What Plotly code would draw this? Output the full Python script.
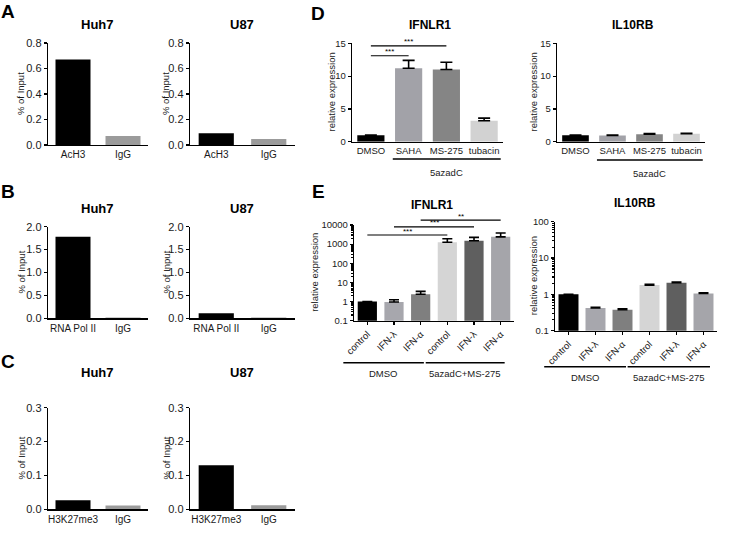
import math
import plotly.graph_objects as go

W, H = 735, 533

# ---------------- data ----------------
A_cats = ["AcH3", "IgG"]
A_huh7 = [0.67, 0.07]
A_u87 = [0.092, 0.047]

B_cats = ["RNA Pol II", "IgG"]
B_huh7 = [1.78, 0.02]
B_u87 = [0.11, 0.02]

C_cats = ["H3K27me3", "IgG"]
C_huh7 = [0.027, 0.011]
C_u87 = [0.13, 0.012]

D_cats = ["DMSO", "SAHA", "MS-275", "tubacin"]
D_ifnlr1 = [1.0, 11.2, 11.0, 3.2]
D_ifnlr1_err = [0.0, 1.2, 1.1, 0.4]
D_il10rb = [1.0, 0.95, 1.15, 1.22]
D_il10rb_err = [0.0, 0.08, 0.08, 0.06]

E_labels = ["control", "IFN-λ", "IFN-α", "control", "IFN-λ", "IFN-α"]
E_ifnlr1 = [1.0, 0.95, 2.4, 1250, 1500, 2400]
E_ifnlr1_err = [0.0, 0.3, 1.0, 650, 750, 1400]
E_il10rb = [1.0, 0.42, 0.38, 1.8, 2.1, 1.06]
E_il10rb_err = [0.0, 0.02, 0.02, 0.08, 0.07, 0.05]

A_ticks = [0.0, 0.2, 0.4, 0.6, 0.8]
B_ticks = [0.0, 0.5, 1.0, 1.5, 2.0]
C_ticks = [0.0, 0.1, 0.2, 0.3]
D_ticks = [0, 5, 10, 15]
E1_ticks = [0.1, 1, 10, 100, 1000, 10000]
E2_ticks = [0.1, 1, 10, 100]

# significance brackets (from idx, to idx, height value, label)
D_sig = [(0, 1, 13.1, "***"), (0, 2, 14.6, "***")]
E_sig = [(0, 3, 3000, "***"), (1, 4, 7900, "***"), (2, 5, 18000, "**")]

# ---------------- styling ----------------
FONT = "Liberation Sans, Arial, sans-serif"
chip_colors = ["#000000", "#9b9b9b"]
D_colors = ["#000000", "#a2a2a8", "#858585", "#d2d2d2"]
E_colors = ["#000000", "#a7a7ad", "#7f7f7f", "#d5d5d5", "#5f5f5f", "#a5a5aa"]
TXT = "#1a1a1a"


def fx(p):
    return p / W


def fy(p):
    return 1 - p / H


fig = go.Figure()
layout = dict(
    template="none",
    width=W, height=H, margin=dict(l=0, r=0, t=0, b=0, pad=0), autosize=False,
    paper_bgcolor="white", plot_bgcolor="white",
    font=dict(family=FONT, size=11, color="black"),
    showlegend=False, annotations=[], shapes=[],
)

# panel spec
panels = [
    (1, 48, 148, 43, 145, A_cats, A_huh7, None, chip_colors, 0.7, [0, 0.8], A_ticks, False, "Huh7", "% of Input", 21),
    (2, 190, 295, 43, 145, A_cats, A_u87, None, chip_colors, 0.67, [0, 0.8], A_ticks, False, "U87", "% of Input", 166),
    (3, 48, 148, 226.7, 318.3, B_cats, B_huh7, None, chip_colors, 0.7, [0, 2.0], B_ticks, False, "Huh7", "% of Input", 21),
    (4, 190, 295, 226.7, 318.3, B_cats, B_u87, None, chip_colors, 0.67, [0, 2.0], B_ticks, False, "U87", "% of Input", 166),
    (5, 48, 148, 407.7, 509.3, C_cats, C_huh7, None, chip_colors, 0.7, [0, 0.3], C_ticks, False, "Huh7", "% of Input", 21),
    (6, 190, 295, 407.7, 509.3, C_cats, C_u87, None, chip_colors, 0.67, [0, 0.3], C_ticks, False, "U87", "% of Input", 166),
    (7, 352, 503, 43.3, 141.7, D_cats, D_ifnlr1, D_ifnlr1_err, D_colors, 0.72, [0, 15], D_ticks, False, "IFNLR1", "relative expression", 331),
    (8, 557, 705, 43.3, 141.7, D_cats, D_il10rb, D_il10rb_err, D_colors, 0.72, [0, 15], D_ticks, False, "IL10RB", "relative expression", 533),
    (9, 354, 514, 225, 320.7, list(range(6)), E_ifnlr1, E_ifnlr1_err, E_colors, 0.72, [-1, 4], E1_ticks, True, "IFNLR1", "relative expression", 315),
    (10, 555, 717, 221.7, 330.7, list(range(6)), E_il10rb, E_il10rb_err, E_colors, 0.74, [-1, 2], E2_ticks, True, "IL10RB", "relative expression", 533),
]

title_pos = {1: (97, 25), 2: (242, 25), 3: (97, 208), 4: (242, 208), 5: (97, 372), 6: (242, 372),
             7: (430, 25), 8: (633, 25), 9: (432, 205), 10: (635, 203)}

for (i, x0, x1, yt, yb, xs, ys, err, cols, bw, yr, ticks, is_log, title, ylab, ylx) in panels:
    xa = f"x{i}"
    ya = f"y{i}"
    small = i >= 7
    ekw = None
    if err is not None:
        ekw = dict(type="data", array=err, arrayminus=[0] * len(err), symmetric=False,
                   color="black", thickness=1.6, width=6 if i in (7, 8) else 5)
    fig.add_trace(go.Bar(x=xs, y=ys, marker=dict(color=cols, line=dict(width=0)),
                         width=bw, xaxis=xa, yaxis=ya, error_y=ekw, showlegend=False))
    suffix = "" if i == 1 else str(i)
    n = len(xs)
    xtf = dict(family=FONT, size=9.5 if small else 10, color=TXT)
    ytf = dict(family=FONT, size=9.5 if small else 11, color=TXT)
    xaxis = dict(domain=[fx(x0), fx(x1)], anchor=ya, showline=True, linecolor="black",
                 linewidth=1.3, showgrid=False, zeroline=False, fixedrange=True,
                 automargin=False, tickfont=xtf)
    if i >= 9:
        xaxis.update(type="linear", range=[-0.5, n - 0.5], tickvals=xs, ticktext=E_labels,
                     tickangle=-45, ticks="outside", ticklen=3, tickcolor="black", tickwidth=1.2)
    else:
        xaxis.update(type="category", range=[-0.5, n - 0.5], ticks="", tickangle=0)
    yaxis = dict(domain=[fy(yb), fy(yt)], anchor=xa, showline=True, linecolor="black",
                 linewidth=1.3, showgrid=False, zeroline=False, fixedrange=True,
                 automargin=False,
                 ticks="outside", ticklen=3, tickcolor="black", tickwidth=1.2, tickfont=ytf)
    if is_log:
        yaxis.update(type="log", range=yr, tickvals=ticks,
                     ticktext=[("%g" % t) for t in ticks],
                     minor=dict(ticks="outside", ticklen=2, tickcolor="black", dtick="D1"))
    else:
        yaxis.update(range=yr, tickvals=ticks,
                     ticktext=[("%.1f" % t) if i <= 6 else ("%d" % t) for t in ticks])
    layout["xaxis" + suffix] = xaxis
    layout["yaxis" + suffix] = yaxis

    tx, ty = title_pos[i]
    layout["annotations"].append(dict(text=f"<b>{title}</b>", x=fx(tx), y=fy(ty),
                                      xref="paper", yref="paper",
                                      showarrow=False, font=dict(size=12 if small else 13, family=FONT),
                                      xanchor="center", yanchor="middle"))
    layout["annotations"].append(dict(text=ylab, x=fx(ylx), y=fy((yt + yb) / 2), xref="paper",
                                      yref="paper", showarrow=False, textangle=-90,
                                      font=dict(size=9.5, family=FONT, color=TXT),
                                      xanchor="center", yanchor="middle"))


def ydom(v, yr, is_log):
    if is_log:
        return (math.log10(v) - yr[0]) / (yr[1] - yr[0])
    return (v - yr[0]) / (yr[1] - yr[0])


def xdom(idx, n):
    return (idx + 0.5) / n


# significance brackets
for (i, sigs, yr, is_log, n) in [(7, D_sig, [0, 15], False, 4), (9, E_sig, [-1, 4], True, 6)]:
    for (a, b, v, lab) in sigs:
        yd = ydom(v, yr, is_log)
        layout["shapes"].append(dict(type="line", xref=f"x{i} domain", yref=f"y{i} domain",
                                     x0=xdom(a, n), x1=xdom(b, n), y0=yd, y1=yd,
                                     line=dict(color="black", width=1.2)))
        layout["annotations"].append(dict(text=lab, xref=f"x{i} domain", yref=f"y{i} domain",
                                          x=(xdom(a, n) + xdom(b, n)) / 2, y=yd, yshift=4,
                                          showarrow=False, font=dict(size=8, family=FONT),
                                          xanchor="center", yanchor="middle"))

# group underlines
groups = [
    (7, 4, 1, 3, -0.42, 0.44, 159, 172, "5azadC"),
    (8, 4, 1, 3, -0.42, 0.44, 160, 173, "5azadC"),
    (9, 6, 0, 2, -0.9, 0.12, 362.7, 373, "DMSO"),
    (9, 6, 3, 5, -0.81, 0.15, 362.7, 373, "5azadC+MS-275"),
    (10, 6, 0, 2, -0.9, 0.13, 366.7, 377, "DMSO"),
    (10, 6, 3, 5, -0.81, 0.24, 366.7, 377, "5azadC+MS-275"),
]
for (i, n, a, b, pa, pb, ly, ty, lab) in groups:
    xa0 = (a + pa + 0.5) / n
    xb0 = (b + pb + 0.5) / n
    layout["shapes"].append(dict(type="line", xref=f"x{i} domain", yref="paper",
                                 x0=xa0, x1=xb0, y0=fy(ly), y1=fy(ly),
                                 line=dict(color="black", width=1.4)))
    layout["annotations"].append(dict(text=lab, xref=f"x{i} domain", yref="paper",
                                      x=(xa0 + xb0) / 2, y=fy(ty), showarrow=False,
                                      font=dict(size=9.5, family=FONT, color=TXT),
                                      xanchor="center", yanchor="middle"))

# panel letters
for lab, xp, yp in [("A", 8, 12), ("B", 8, 192), ("C", 8, 362), ("D", 318, 13), ("E", 318, 191)]:
    layout["annotations"].append(dict(text=f"<b>{lab}</b>", x=fx(xp), y=fy(yp), xref="paper",
                                      yref="paper", showarrow=False,
                                      font=dict(size=19, family=FONT, color="black"),
                                      xanchor="center", yanchor="middle"))

fig.update_layout(**layout)
fig.write_html("out.html", config={"displayModeBar": False, "staticPlot": True},
               post_script="document.body.style.margin='0';document.body.style.overflow='hidden';")
